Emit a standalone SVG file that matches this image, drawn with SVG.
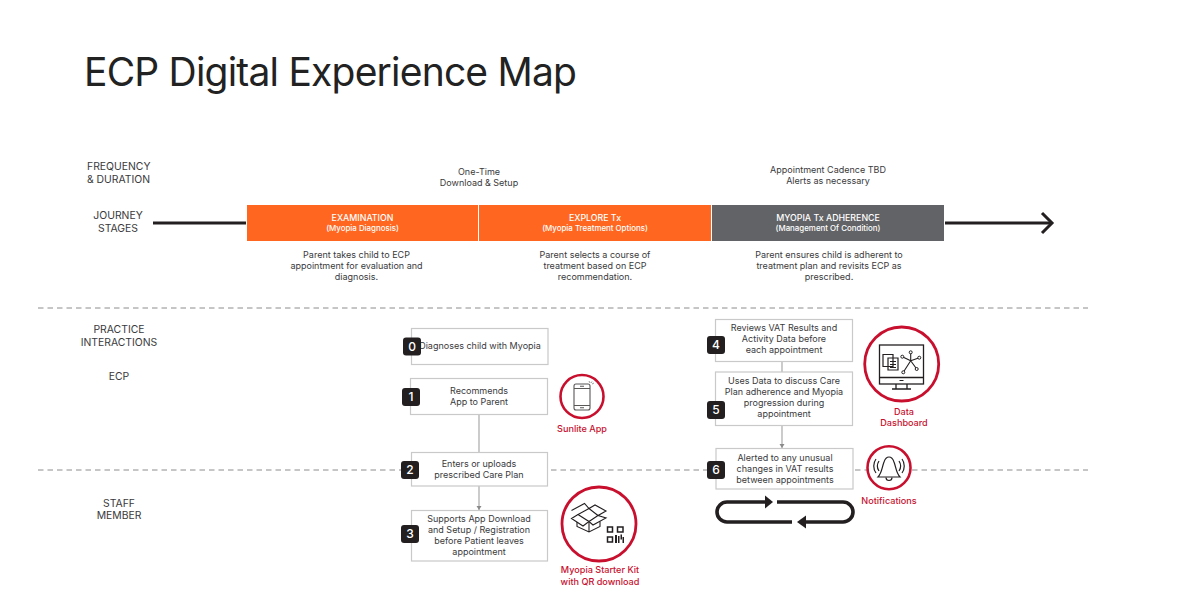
<svg xmlns="http://www.w3.org/2000/svg" width="1200" height="600" viewBox="0 0 1200 600">
<style>
text{font-family:"Inter","Liberation Sans",sans-serif;fill:#3a3a3c}
.t{font-size:9px;text-anchor:middle}
.l{font-size:10.4px;text-anchor:middle}
.w{fill:#fff;text-anchor:middle;font-weight:500}
.r{fill:#c8102e;font-size:9.100px;text-anchor:middle;font-weight:500}
.box{fill:#fff;stroke:#c9c9c9;stroke-width:1.2}
.bd{fill:#231f20}
.n{fill:#fff;font-size:12px;text-anchor:middle;font-weight:500}
.ring{fill:#fff;stroke:#c8102e}
.ic{fill:none;stroke:#231f20;stroke-width:1.1}
.dash{stroke:#808080;stroke-width:.9;stroke-dasharray:5.500 4;fill:none}
.link{stroke:#b0b0b0;stroke-width:1.3;fill:none}
.thick{stroke:#231f20;fill:none}
</style>
<defs>
<marker id="tip" markerWidth="6" markerHeight="6" refX="4" refY="2.500" orient="auto" markerUnits="userSpaceOnUse"><path d="M0 0L4 2.500L0 5Z" fill="#8a8a8a"/></marker>
</defs>
<rect width="1200" height="600" fill="#fff"/>
<text id="title" x="84" y="86" font-size="39" letter-spacing="-.8" style="fill:#222">ECP Digital Experience Map</text>

<g id="row-labels">
<text x="87" y="170" font-size="10.400">FREQUENCY</text>
<text x="87" y="183" font-size="10.400">&amp; DURATION</text>
<text class="l" x="118" y="218.500">JOURNEY</text>
<text class="l" x="118" y="231.500">STAGES</text>
<text class="l" x="119" y="333">PRACTICE</text>
<text class="l" x="119" y="346">INTERACTIONS</text>
<text class="l" x="119" y="380">ECP</text>
<text class="l" x="119" y="506.500">STAFF</text>
<text class="l" x="119" y="519">MEMBER</text>
</g>

<g id="frequency">
<text class="t" x="479" y="175">One-Time</text>
<text class="t" x="479" y="186">Download &amp; Setup</text>
<text class="t" x="828" y="173">Appointment Cadence TBD</text>
<text class="t" x="828" y="184">Alerts as necessary</text>
</g>

<g id="connectors">
<path class="dash" d="M38 308H1088"/>
<path class="dash" d="M38 470H1088"/>
<path class="thick" stroke-width="3" d="M153 223H246"/>
<path class="thick" stroke-width="3" d="M945 223H1051"/>
<path class="thick" stroke-width="3" d="M1042 213L1052 223L1042 233"/>
<path class="link" d="M479 414.500V452.500"/>
<path class="link" marker-end="url(#tip)" d="M479 486V510"/>
<path class="link" d="M782 361.500V372"/>
<path class="link" marker-end="url(#tip)" d="M782 425.500V448"/>
<path class="thick" stroke-width="3.600" d="M792 522H727A10 10 0 0 1 727 502H766"/>
<path class="thick" stroke-width="3.600" d="M777 502H843A10 10 0 0 1 843 522H805"/>
<path fill="#231f20" d="M765 495.500L773 502L765 508.500Z"/>
<path fill="#231f20" d="M806 515.500L797 522L806 528.500Z"/>
</g>

<g id="stage-examination">
<rect x="247" y="205" width="231" height="36" fill="#ff6720"/>
<text class="w" x="362.500" y="220.500" font-size="8.800">EXAMINATION</text>
<text class="w" x="362.500" y="231" font-size="7.900">(Myopia Diagnosis)</text>
<text class="t" x="356.500" y="258">Parent takes child to ECP</text>
<text class="t" x="356.500" y="269">appointment for evaluation and</text>
<text class="t" x="356.500" y="280">diagnosis.</text>
</g>
<g id="stage-explore">
<rect x="479" y="205" width="232" height="36" fill="#ff6720"/>
<text class="w" x="595" y="220.500" font-size="8.800">EXPLORE Tx</text>
<text class="w" x="595" y="231" font-size="7.900">(Myopia Treatment Options)</text>
<text class="t" x="595" y="258">Parent selects a course of</text>
<text class="t" x="595" y="269">treatment based on ECP</text>
<text class="t" x="595" y="280">recommendation.</text>
</g>
<g id="stage-adherence">
<rect x="712" y="205" width="232" height="36" fill="#626366"/>
<text class="w" x="828" y="220.500" font-size="8.800">MYOPIA Tx ADHERENCE</text>
<text class="w" x="828" y="231" font-size="7.900">(Management Of Condition)</text>
<text class="t" x="829" y="258">Parent ensures child is adherent to</text>
<text class="t" x="829" y="269">treatment plan and revisits ECP as</text>
<text class="t" x="829" y="280">prescribed.</text>
</g>

<g id="step-0">
<rect class="box" x="411.500" y="328.500" width="136.500" height="36"/>
<text class="t" x="480" y="349">Diagnoses child with Myopia</text>
<rect class="bd" x="403" y="337.500" width="18" height="18" rx="3"/>
<text class="n" x="412" y="350.500">0</text>
</g>
<g id="step-1">
<rect class="box" x="410.500" y="378.500" width="137" height="36"/>
<text class="t" x="479" y="394">Recommends</text>
<text class="t" x="479" y="405">App to Parent</text>
<rect class="bd" x="402" y="388" width="18" height="18" rx="3"/>
<text class="n" x="411" y="401">1</text>
</g>
<g id="step-2">
<rect class="box" x="411.500" y="452.500" width="136" height="33.500"/>
<text class="t" x="479" y="466.500">Enters or uploads</text>
<text class="t" x="479" y="477.500">prescribed Care Plan</text>
<rect class="bd" x="401" y="461" width="18" height="18" rx="3"/>
<text class="n" x="410" y="474">2</text>
</g>
<g id="step-3">
<rect class="box" x="411.500" y="510.500" width="136" height="50.500"/>
<text class="t" x="479" y="522">Supports App Download</text>
<text class="t" x="479" y="533">and Setup / Registration</text>
<text class="t" x="479" y="544">before Patient leaves</text>
<text class="t" x="479" y="555">appointment</text>
<rect class="bd" x="401" y="525" width="18" height="18" rx="3"/>
<text class="n" x="410" y="538">3</text>
</g>
<g id="step-4">
<rect class="box" x="715.500" y="319.500" width="137" height="42"/>
<text class="t" x="784" y="330.500">Reviews VAT Results and</text>
<text class="t" x="784" y="341.500">Activity Data before</text>
<text class="t" x="784" y="352.500">each appointment</text>
<rect class="bd" x="707" y="336" width="18" height="18" rx="3"/>
<text class="n" x="716" y="349">4</text>
</g>
<g id="step-5">
<rect class="box" x="715.500" y="372" width="137" height="53.500"/>
<text class="t" x="784" y="383.500">Uses Data to discuss Care</text>
<text class="t" x="784" y="394.500">Plan adherence and Myopia</text>
<text class="t" x="784" y="405.500">progression during</text>
<text class="t" x="784" y="416.500">appointment</text>
<rect class="bd" x="707" y="401" width="18" height="18" rx="3"/>
<text class="n" x="716" y="414">5</text>
</g>
<g id="step-6">
<rect class="box" x="716" y="448.500" width="137" height="40.500"/>
<text class="t" x="785" y="460.500">Alerted to any unusual</text>
<text class="t" x="785" y="471.500">changes in VAT results</text>
<text class="t" x="785" y="482.500">between appointments</text>
<rect class="bd" x="707" y="461" width="18" height="18" rx="3"/>
<text class="n" x="716" y="474">6</text>
</g>

<g id="sunlite-app">
<circle class="ring" cx="582" cy="396.500" r="21.500" stroke-width="2.600"/>
<g style="opacity:.75">
<rect class="ic" x="574" y="384" width="16" height="26" rx="2"/>
<path class="ic" d="M574 388.500H590M574 405.500H590M580 407.700H584M580 386.300H584"/>
<path class="ic" style="stroke-width:.6" d="M589 381L590 383M592 381.500L591 383M592 384L594 383"/>
</g>
<text class="r" x="582" y="432">Sunlite App</text>
</g>

<g id="starter-kit">
<circle class="ring" cx="599" cy="524" r="37" stroke-width="2.800"/>
<path class="ic" d="M571.500 510.500L584.500 503.500L589 508.500L595 505L606 511L598 515.500L589 508.500L578 514.500L589 521.500L598 515.500M578 514.500L571.500 518.500L583 526L589 521.500L593 525L606 518L598 515.500"/>
<path class="ic" d="M577 522V526.500L589 532L600 526.500V521.500M589 521.500V532"/>
<g fill="#231f20">
<path class="ic" style="stroke-width:1.500" d="M607.500 527h5v5h-5zM617.500 527h5.500v5h-5.500zM607.500 537h5v5h-5z"/>
<rect x="615" y="535" width="2" height="8"/><rect x="618" y="536" width="1.500" height="7"/><rect x="620.500" y="534.500" width="1.500" height="5"/><rect x="622.500" y="537" width="1.500" height="6"/>
</g>
<text class="r" x="600" y="573">Myopia Starter Kit</text>
<text class="r" x="600" y="585">with QR download</text>
</g>

<g id="data-dashboard">
<circle class="ring" cx="901.700" cy="364" r="37" stroke-width="2.800"/>
<rect class="ic" style="stroke-width:1.300" x="879.500" y="345" width="44" height="39"/>
<path class="ic" style="stroke-width:1.300" d="M879.500 377.500H923.500M896 384V388.500M907 384V388.500M892 389H911"/>
<path d="M899.500 380.500H903.500" stroke="#231f20" stroke-width="1"/>
<path class="ic" style="stroke-width:1.200" d="M883 354.500H893V366.500H883ZM888 358H898V370H888ZM890 361.500H896M890 364.500H896M890 367.500H896"/>
<path class="ic" d="M910.700 360.700L902.300 356.700M910.700 360.700V352.300M910.700 360.700L919.300 357.700M910.700 360.700L916.700 369M910.700 360.700L903.300 372.300"/>
<g fill="#fff" stroke="#231f20" stroke-width="1"><circle cx="902.300" cy="356.700" r="1.500"/><circle cx="910.700" cy="352.300" r="1.500"/><circle cx="919.300" cy="357.700" r="1.500"/><circle cx="916.700" cy="369" r="1.500"/><circle cx="903.300" cy="372.300" r="1.500"/></g>
<text class="r" x="904" y="415">Data</text>
<text class="r" x="904" y="426">Dashboard</text>
</g>

<g id="notifications">
<circle class="ring" cx="889" cy="467.700" r="21.500" stroke-width="2.600"/>
<path class="ic" style="stroke-width:1.200" d="M878 477C882 473 882 467 884 462C885 459 887 457 889 457C891 457 893 459 894 462C896 467 896 473 900 477Z"/>
<path class="ic" style="stroke-width:1.200" d="M886 477.500A3 3 0 0 0 892 477.500M879 461C877 464 877 468 879 471M876 459C873 463 873 469 876 473M899 461C901 464 901 468 899 471M902 459C905 463 905 469 902 473"/>
<text class="r" x="889" y="504">Notifications</text>
</g>
</svg>
